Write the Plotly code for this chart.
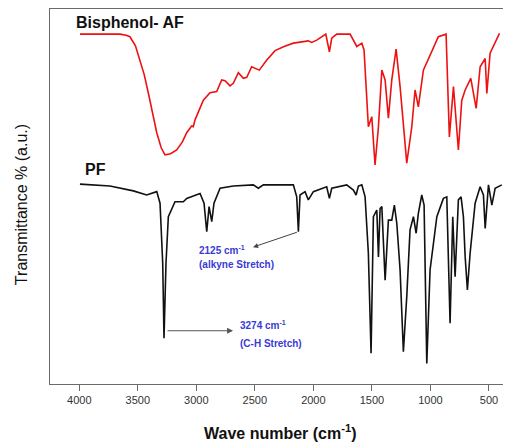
import plotly.graph_objects as go

# Bisphenol-AF (red) spectrum: wavenumber (cm-1) and transmittance (a.u.)
baf_wn = [3994, 3652, 3600, 3567, 3520, 3481, 3445, 3410, 3375, 3338, 3300, 3268, 3220, 3168,
          3120, 3082, 3040, 3026, 3010, 2940, 2883, 2826, 2783,
          2755, 2712, 2684, 2641, 2598, 2569, 2527, 2462, 2398, 2327, 2250, 2171, 2043, 2014, 1971,
          1894, 1863, 1843, 1800, 1686, 1629, 1586, 1567, 1530, 1501, 1473, 1444, 1415, 1387,
          1359, 1330, 1293, 1259, 1202, 1159, 1131, 1103, 1060, 1003, 932, 866, 838, 803, 761,
          732, 703, 655, 609, 575, 532, 518, 490, 410]
baf_t = [93.3, 93.3, 93.0, 92.6, 90.2, 86.4, 82.5, 77.6, 72.0, 67.0, 63.0, 61.1, 61.4, 62.4,
         64.5, 67.0, 68.8, 68.6, 70.5, 75.7, 77.7, 78.0, 81.1,
         80.9, 79.5, 80.2, 83.0, 81.5, 81.8, 84.6, 83.7, 86.4, 88.9, 90.0, 90.9, 91.5, 91.1, 91.7,
         93.3, 88.6, 92.2, 93.3, 93.3, 90.0, 90.9, 89.1, 68.6, 71.3, 58.4, 68.6, 83.7, 81.1,
         70.9, 81.1, 89.3, 79.3, 58.9, 68.6, 78.4, 73.9, 83.7, 87.7, 92.6, 93.3, 65.9, 79.3, 62.4,
         75.7, 78.4, 81.5, 73.5, 84.6, 86.8, 77.5, 88.2, 93.5]

# PF (black) spectrum
pf_wn = [3994, 3738, 3538, 3424, 3338, 3310, 3287, 3276, 3259, 3239, 3182, 3111, 3082, 2968,
         2934, 2911, 2891, 2868, 2849, 2797, 2684, 2513, 2470, 2427, 2171, 2142, 2128, 2114,
         2071, 2043, 2000, 1886, 1863, 1843, 1715, 1658, 1635, 1615, 1586, 1558, 1530, 1507,
         1487, 1458, 1444, 1430, 1415, 1387, 1359, 1330, 1308, 1287, 1259, 1231, 1202, 1174,
         1145, 1122, 1103, 1074, 1054, 1031, 1003, 945, 889, 860, 832, 809, 789, 761, 738, 718,
         703, 684, 661, 618, 575, 547, 532, 504, 475, 447, 390]
pf_t = [53.3, 52.8, 51.5, 50.4, 51.3, 48.2, 32.2, 12.2, 32.2, 44.6, 48.6, 48.6, 49.5, 50.8,
        48.2, 40.6, 47.3, 43.3, 48.2, 52.2, 52.8, 53.1, 52.2, 53.1, 53.1, 49.9, 40.6, 50.4,
        51.3, 49.1, 51.3, 52.6, 49.5, 52.2, 53.1, 51.7, 50.4, 52.8, 53.1, 49.9, 34.8, 8.2,
        44.6, 46.4, 33.9, 46.8, 47.3, 27.7, 43.7, 43.7, 47.7, 42.8, 30.4, 8.6, 23.3, 41.1,
        44.6, 40.2, 45.5, 50.4, 47.7, 5.5, 30.4, 44.6, 49.5, 49.9, 16.2, 44.6, 28.6, 49.1, 49.9, 44.6,
        33.9, 25.1, 34.8, 48.2, 52.6, 50.4, 41.5, 53.1, 47.7, 52.2, 53.1]

x_ticks = [4000, 3500, 3000, 2500, 2000, 1500, 1000, 500]

FONT = "Liberation Sans, Arial, sans-serif"
AX = "#6a6a6a"
BLUE = "#3a3ad6"

fig = go.Figure()
fig.add_trace(go.Scatter(x=baf_wn, y=baf_t, mode="lines",
                         line=dict(color="#ee1111", width=1.6), showlegend=False))
fig.add_trace(go.Scatter(x=pf_wn, y=pf_t, mode="lines",
                         line=dict(color="#111111", width=1.6), showlegend=False))

anns = [
    dict(x=4048, y=96.3, text="<b>Bisphenol- AF</b>", xanchor="left", yanchor="middle",
         showarrow=False, font=dict(size=16, color="#111", family=FONT)),
    dict(x=3968, y=57.1, text="<b>PF</b>", xanchor="left", yanchor="middle",
         showarrow=False, font=dict(size=16, color="#111", family=FONT)),
    # arrows
    dict(x=2515, y=36.5, ax=2128, ay=40.6, axref="x", ayref="y", text="", showarrow=True,
         arrowhead=2, arrowsize=1, arrowwidth=1, arrowcolor="#444"),
    dict(x=2686, y=14.2, ax=3259, ay=14.2, axref="x", ayref="y", text="", showarrow=True,
         arrowhead=2, arrowsize=1, arrowwidth=1.2, arrowcolor="#555"),
    dict(x=2997, y=35.7, text="<b>2125 cm<sup>-1</sup></b>", xanchor="left", yanchor="middle",
         showarrow=False, font=dict(size=10, color=BLUE, family=FONT)),
    dict(x=2997, y=31.9, text="<b>(alkyne Stretch)</b>", xanchor="left", yanchor="middle",
         showarrow=False, font=dict(size=10, color=BLUE, family=FONT)),
    dict(x=2644, y=15.7, text="<b>3274 cm<sup>-1</sup></b>", xanchor="left", yanchor="middle",
         showarrow=False, font=dict(size=10, color=BLUE, family=FONT)),
    dict(x=2644, y=10.9, text="<b>(C-H Stretch)</b>", xanchor="left", yanchor="middle",
         showarrow=False, font=dict(size=10, color=BLUE, family=FONT)),
    # axis titles
    dict(xref="paper", yref="paper", x=0.5, y=0, yshift=-48, text="<b>Wave number (cm<sup>-1</sup>)</b>",
         xanchor="center", yanchor="middle", showarrow=False,
         font=dict(size=16, color="#111", family=FONT)),
    dict(xref="paper", yref="paper", x=0, y=0.477, xshift=-29, text="Transmittance % (a.u.)",
         textangle=-90, xanchor="center", yanchor="middle", showarrow=False,
         font=dict(size=16, color="#111", family=FONT)),
]

# page body has an 8px default margin, so the figure is offset by 8px
fig.update_layout(
    width=503, height=434,
    margin=dict(l=42, r=1, t=1, b=58),
    paper_bgcolor="white", plot_bgcolor="white",
    annotations=anns,
    xaxis=dict(range=[4250, 320], tickvals=x_ticks, ticktext=[str(v) for v in x_ticks],
               showgrid=False, zeroline=False, showline=True, mirror=True, linecolor=AX,
               linewidth=1.3, ticks="outside", ticklen=6, tickcolor=AX,
               tickfont=dict(size=11, color="#333", family=FONT)),
    yaxis=dict(range=[0, 100], showticklabels=False, showgrid=False, zeroline=False,
               showline=True, mirror=True, linecolor=AX, linewidth=1.3, ticks=""),
)

fig.write_html("out.html")
